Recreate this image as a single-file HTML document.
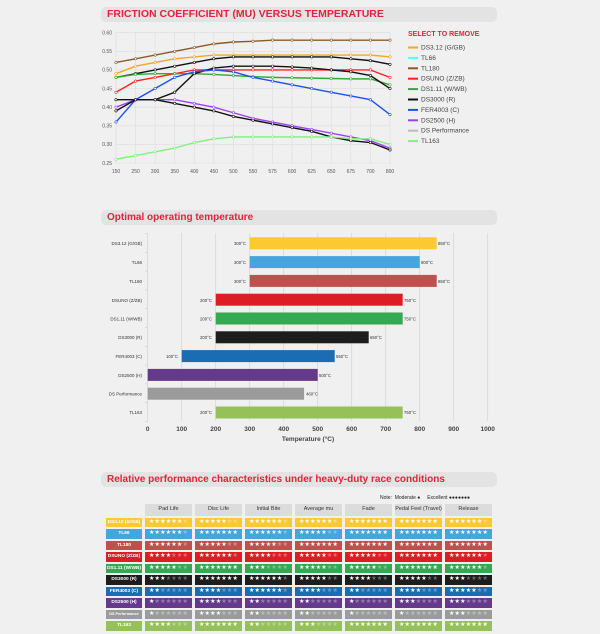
<!DOCTYPE html>
<html><head><meta charset="utf-8"><style>
body{margin:0;background:#f0f0f0;font-family:"Liberation Sans",sans-serif;}
.wrap{position:relative;width:600px;height:634px;overflow:hidden;}
.tb{position:absolute;left:101px;width:396px;height:15px;background:#e3e3e3;border-radius:5px;color:#e2233b;font-weight:bold;font-size:10.5px;line-height:15px;padding-left:6px;box-sizing:border-box;}
table{position:absolute;left:103px;top:502px;border-collapse:separate;border-spacing:3px 2px;font-size:5.5px;table-layout:fixed;width:392px}
tr{height:9.5px}
td{height:9.5px;padding:0;text-align:center;color:#fff;line-height:9.5px;white-space:nowrap;overflow:hidden}
td.l{width:36px;font-weight:bold;font-size:4.8px}
td.h{background:#dcdcdc;color:#333;font-size:5.5px;width:47px;height:11.5px;line-height:11.5px}
td.s{width:47px;font-size:6px;letter-spacing:0.2px}
.e{opacity:.35}
.y{background:#fcc930}.b{background:#45a5dc}.r1{background:#c0504d}.r{background:#dc1d25}.g{background:#36a852}.k{background:#1d1d1d}.f{background:#1a6db3}.p{background:#663a8b}.gr{background:#9b9b9b}.lg{background:#95c05a}
</style></head><body><div class="wrap">
<div class="tb" style="top:7px">FRICTION COEFFICIENT (MU) VERSUS TEMPERATURE</div>
<svg id="c1" width="600" height="634" style="position:absolute;left:0;top:0" font-family="Liberation Sans, sans-serif">
<g font-size="5" fill="#555" text-anchor="end">
<text x="112" y="34.5">0.60</text><text x="112" y="53.1">0.55</text><text x="112" y="71.7">0.50</text><text x="112" y="90.3">0.45</text><text x="112" y="109">0.40</text><text x="112" y="127.6">0.35</text><text x="112" y="146.2">0.30</text><text x="112" y="164.8">0.25</text>
</g>
<g font-size="5" fill="#555" text-anchor="middle">
<text x="116" y="173">150</text><text x="135.6" y="173">250</text><text x="155.1" y="173">300</text><text x="174.7" y="173">350</text><text x="194.3" y="173">400</text><text x="213.9" y="173">450</text><text x="233.4" y="173">500</text><text x="253" y="173">550</text><text x="272.6" y="173">575</text><text x="292.1" y="173">600</text><text x="311.7" y="173">625</text><text x="331.3" y="173">650</text><text x="350.8" y="173">675</text><text x="370.4" y="173">700</text><text x="390" y="173">800</text>
</g>
<g id="grid"></g><g id="lines"></g>
<text x="408" y="36" font-size="7" font-weight="bold" fill="#e2233b">SELECT TO REMOVE</text>
<g font-size="6.5" fill="#444" id="leg">
<text x="421" y="49.5">DS3.12 (G/GB)</text><text x="421" y="59.9">TL66</text><text x="421" y="70.3">TL180</text><text x="421" y="80.7">DSUNO (Z/ZB)</text><text x="421" y="91.1">DS1.11 (W/WB)</text><text x="421" y="101.5">DS3000 (R)</text><text x="421" y="111.9">FER4003 (C)</text><text x="421" y="122.3">DS2500 (H)</text><text x="421" y="132.7">DS Performance</text><text x="421" y="143.1">TL163</text>
</g>
<g id="bars"></g>
<g font-size="4.5" fill="#333" text-anchor="end">
<text x="142" y="245">DS3.12 (G/GB)</text><text x="142" y="264">TL66</text><text x="142" y="283">TL180</text><text x="142" y="302">DSUNO (Z/ZB)</text><text x="142" y="320.5">DS1.11 (W/WB)</text><text x="142" y="339">DS3000 (R)</text><text x="142" y="358">FER4003 (C)</text><text x="142" y="377">DS2500 (H)</text><text x="142" y="395.5">DS Performance</text><text x="142" y="414">TL163</text>
</g>
<g font-size="4.3" fill="#333">
<text x="246" y="245" text-anchor="end">300°C</text><text x="438" y="245">850°C</text>
<text x="246" y="264" text-anchor="end">300°C</text><text x="421" y="264">800°C</text>
<text x="246" y="283" text-anchor="end">300°C</text><text x="438" y="283">850°C</text>
<text x="212" y="302" text-anchor="end">200°C</text><text x="404" y="302">750°C</text>
<text x="212" y="320.5" text-anchor="end">200°C</text><text x="404" y="320.5">750°C</text>
<text x="212" y="339" text-anchor="end">200°C</text><text x="370" y="339">650°C</text>
<text x="178" y="358" text-anchor="end">100°C</text><text x="336" y="358">550°C</text>
<text x="319" y="377">500°C</text>
<text x="306" y="395.5">460°C</text>
<text x="212" y="414" text-anchor="end">200°C</text><text x="404" y="414">750°C</text>
</g>
<g font-size="6.5" font-weight="bold" fill="#444" text-anchor="middle">
<text x="147.7" y="431">0</text><text x="181.7" y="431">100</text><text x="215.7" y="431">200</text><text x="249.7" y="431">300</text><text x="283.7" y="431">400</text><text x="317.7" y="431">500</text><text x="351.7" y="431">600</text><text x="385.7" y="431">700</text><text x="419.7" y="431">800</text><text x="453.7" y="431">900</text><text x="487.7" y="431">1000</text>
<text x="308" y="441" font-size="6.5">Temperature (°C)</text>
</g>
</svg>
<div class="tb" style="top:210px;font-size:10px">Optimal operating temperature</div>
<div class="tb" style="top:472px;font-size:10px">Relative performance characteristics under heavy-duty race conditions</div>
<div style="position:absolute;left:380px;top:495px;font-size:5px;color:#222;">Note:&nbsp; Moderate ●&nbsp;&nbsp;&nbsp;&nbsp; Excellent ●●●●●●●</div>
<table>
<tr><td class="l" style="background:none;height:11.5px"></td><td class="h">Pad Life</td><td class="h">Disc Life</td><td class="h">Initial Bite</td><td class="h">Average mu</td><td class="h">Fade</td><td class="h">Pedal Feel (Travel)</td><td class="h">Release</td></tr>
<tr><td class="l y">DS3.12 (G/GB)</td><td class="s y">★★★★★★<span class="e">★</span></td><td class="s y">★★★★★<span class="e">★★</span></td><td class="s y">★★★★★★<span class="e">★</span></td><td class="s y">★★★★★★<span class="e">★</span></td><td class="s y">★★★★★★★</td><td class="s y">★★★★★★★</td><td class="s y">★★★★★★<span class="e">★</span></td></tr>
<tr><td class="l b">TL66</td><td class="s b">★★★★★★<span class="e">★</span></td><td class="s b">★★★★★★★</td><td class="s b">★★★★★★<span class="e">★</span></td><td class="s b">★★★★★<span class="e">★★</span></td><td class="s b">★★★★★★★</td><td class="s b">★★★★★★★</td><td class="s b">★★★★★★★</td></tr>
<tr><td class="l r1">TL180</td><td class="s r1">★★★★★★<span class="e">★</span></td><td class="s r1">★★★★★<span class="e">★★</span></td><td class="s r1">★★★★★<span class="e">★★</span></td><td class="s r1">★★★★★★★</td><td class="s r1">★★★★★★★</td><td class="s r1">★★★★★★★</td><td class="s r1">★★★★★★★</td></tr>
<tr><td class="l r">DSUNO (Z/ZB)</td><td class="s r">★★★★<span class="e">★★★</span></td><td class="s r">★★★★★★<span class="e">★</span></td><td class="s r">★★★★<span class="e">★★★</span></td><td class="s r">★★★★★<span class="e">★★</span></td><td class="s r">★★★★★<span class="e">★★</span></td><td class="s r">★★★★★★★</td><td class="s r">★★★★★★<span class="e">★</span></td></tr>
<tr><td class="l g">DS1.11 (W/WB)</td><td class="s g">★★★★★<span class="e">★★</span></td><td class="s g">★★★★★★★</td><td class="s g">★★★<span class="e">★★★★</span></td><td class="s g">★★★★★<span class="e">★★</span></td><td class="s g">★★★★★<span class="e">★★</span></td><td class="s g">★★★★★★★</td><td class="s g">★★★★★★<span class="e">★</span></td></tr>
<tr><td class="l k">DS3000 (R)</td><td class="s k">★★★<span class="e">★★★★</span></td><td class="s k">★★★★★★★</td><td class="s k">★★★★★★<span class="e">★</span></td><td class="s k">★★★★★<span class="e">★★</span></td><td class="s k">★★★★<span class="e">★★★</span></td><td class="s k">★★★★★<span class="e">★★</span></td><td class="s k">★★★<span class="e">★★★★</span></td></tr>
<tr><td class="l f">FER4003 (C)</td><td class="s f">★★<span class="e">★★★★★</span></td><td class="s f">★★★★<span class="e">★★★</span></td><td class="s f">★★★★★★<span class="e">★</span></td><td class="s f">★★★★<span class="e">★★★</span></td><td class="s f">★★<span class="e">★★★★★</span></td><td class="s f">★★★★<span class="e">★★★</span></td><td class="s f">★★★★★<span class="e">★★</span></td></tr>
<tr><td class="l p">DS2500 (H)</td><td class="s p">★<span class="e">★★★★★★</span></td><td class="s p">★★★★<span class="e">★★★</span></td><td class="s p">★★<span class="e">★★★★★</span></td><td class="s p">★★<span class="e">★★★★★</span></td><td class="s p">★<span class="e">★★★★★★</span></td><td class="s p">★★★<span class="e">★★★★</span></td><td class="s p">★★★<span class="e">★★★★</span></td></tr>
<tr><td class="l gr" style="font-size:3.8px">DS Performance</td><td class="s gr">★<span class="e">★★★★★★</span></td><td class="s gr">★★★★<span class="e">★★★</span></td><td class="s gr">★★<span class="e">★★★★★</span></td><td class="s gr">★★<span class="e">★★★★★</span></td><td class="s gr">★<span class="e">★★★★★★</span></td><td class="s gr">★<span class="e">★★★★★★</span></td><td class="s gr">★★★<span class="e">★★★★</span></td></tr>
<tr><td class="l lg">TL163</td><td class="s lg">★★★★<span class="e">★★★</span></td><td class="s lg">★★★★★★★</td><td class="s lg">★★<span class="e">★★★★★</span></td><td class="s lg">★★★<span class="e">★★★★</span></td><td class="s lg">★★★★★★★</td><td class="s lg">★★★★★★★</td><td class="s lg">★★★★★★★</td></tr>
</table>
</div>
<script>
var NS="http://www.w3.org/2000/svg";
function el(p,t,a){var e=document.createElementNS(NS,t);for(var k in a)e.setAttribute(k,a[k]);p.appendChild(e);return e;}
var G=document.getElementById('grid'),L=document.getElementById('lines'),B=document.getElementById('bars');
function X(i){return 116+19.57*i} function Y(v){return 32.7+(0.6-v)*372.3}
for(var i=0;i<15;i++)el(G,'line',{x1:X(i),x2:X(i),y1:32,y2:164,stroke:'#ddd','stroke-width':0.6});
for(var j=0;j<8;j++){var y=Y(0.6-j*0.05);el(G,'line',{x1:116,x2:390,y1:y,y2:y,stroke:'#ddd','stroke-width':0.6});}
var S=[
['#8b5a2b',[.52,.53,.54,.55,.56,.57,.575,.577,.58,.58,.58,.58,.58,.58,.58]],
['#f5a623',[.49,.51,.52,.53,.535,.54,.54,.54,.54,.54,.54,.54,.54,.54,.535]],
['#111',[.48,.49,.50,.51,.52,.53,.535,.535,.535,.535,.535,.535,.53,.525,.515]],
['#f22',[.44,.47,.48,.49,.50,.50,.50,.50,.50,.50,.50,.50,.50,.50,.48]],
['#33aa33',[.48,.488,.49,.49,.49,.488,.485,.482,.48,.479,.478,.477,.476,.476,.46]],
['#111',[.42,.42,.42,.44,.49,.505,.51,.51,.51,.508,.505,.50,.495,.485,.45]],
['#1f4ff0',[.36,.42,.45,.48,.495,.50,.495,.48,.47,.46,.45,.44,.43,.42,.38]],
['#a040ff',[.40,.42,.42,.42,.41,.40,.385,.37,.36,.35,.34,.33,.32,.31,.29]],
['#111',[.39,.42,.42,.41,.40,.39,.375,.365,.355,.345,.335,.32,.31,.305,.285]],
['#80f080',[.26,.27,.28,.29,.305,.315,.32,.32,.32,.32,.32,.32,.315,.315,.30]]];
S.forEach(function(s){var pts=s[1].map(function(v,i){return X(i)+','+Y(v)}).join(' ');
el(L,'polyline',{points:pts,fill:'none',stroke:s[0],'stroke-width':1.4});
s[1].forEach(function(v,i){el(L,'circle',{cx:X(i),cy:Y(v),r:1.2,fill:'#fff',stroke:s[0],'stroke-width':0.6});});});
var lc=['#f5a623','#5ff','#8b5a2b','#f22','#33aa33','#111','#1f4ff0','#a040ff','#bbb','#80f080'];
lc.forEach(function(c,i){el(L,'rect',{x:408,y:46.5+10.4*i,width:10,height:2,fill:c});});
for(var k=0;k<=10;k++){var x=147.7+34*k;el(B,'line',{x1:x,x2:x,y1:233,y2:421,stroke:'#d6d6d6','stroke-width':0.8});}
for(var r=0;r<=10;r++){var y=233.5+18.8*r;el(B,'line',{x1:145,x2:147.7,y1:y,y2:y,stroke:'#ccc','stroke-width':0.6});}
var bd=[[300,850,'#fcc930'],[300,800,'#45a5dc'],[300,850,'#c0504d'],[200,750,'#dc1d25'],[200,750,'#36a852'],[200,650,'#1d1d1d'],[100,550,'#1a6db3'],[0,500,'#663a8b'],[0,460,'#9b9b9b'],[200,750,'#95c05a']];
bd.forEach(function(b,i){var cy=243.3+18.8*i;el(B,'rect',{x:147.7+b[0]*0.34,y:cy-6,width:(b[1]-b[0])*0.34,height:12,fill:b[2]});});
</script>
</body></html>
